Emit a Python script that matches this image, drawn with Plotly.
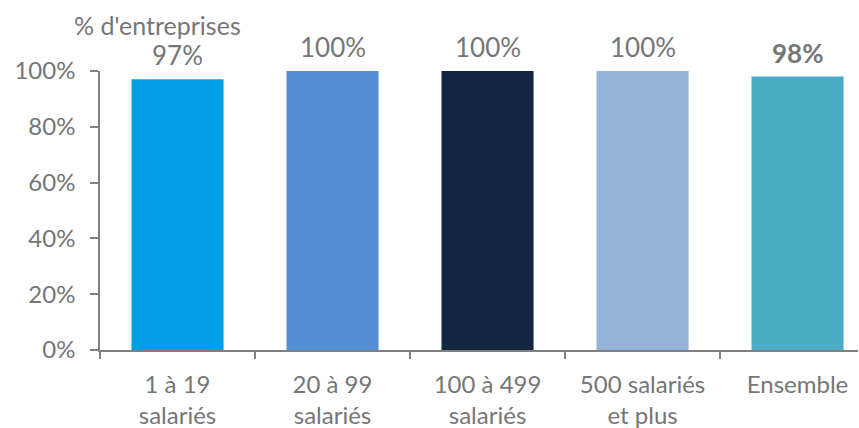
import plotly.graph_objects as go

categories = ["1 à 19<br>salariés", "20 à 99<br>salariés", "100 à 499<br>salariés", "500 salariés<br>et plus", "Ensemble"]
values = [0.97, 1.00, 1.00, 1.00, 0.98]
value_labels = ["97%", "100%", "100%", "100%", "<b>98%</b>"]
colors = ["#009FE3", "#558ED5", "#13263F", "#95B3D7", "#4BACC6"]

grey = "#767676"
font = "Lato, Carlito, Calibri, sans-serif"
FS = 24

fig = go.Figure()
fig.add_trace(go.Bar(
    x=categories, y=values, marker=dict(color=colors, line=dict(width=0)),
    cliponaxis=False, hoverinfo="skip",
))

for c, v, t in zip(categories, values, value_labels):
    fig.add_annotation(x=c, y=v, text=t, showarrow=False, yanchor="middle", yshift=24,
                       font=dict(size=26, color=grey, family=font))

fig.update_layout(
    width=859, height=428,
    margin=dict(l=100, r=1, t=71, b=78, autoexpand=False),
    paper_bgcolor="white", plot_bgcolor="white",
    showlegend=False, bargap=0.406,
)
fig.add_annotation(text="% d'entreprises", xref="paper", yref="paper",
                   x=-0.0369, y=1.165, xanchor="left", yanchor="middle", showarrow=False,
                   font=dict(size=25, color=grey, family=font))

fig.update_xaxes(
    type="category", range=[-0.5, 4.39], showline=True, linecolor="#808080", linewidth=1.5,
    ticks="outside", tickson="boundaries", ticklen=7, tickcolor="#808080", tickwidth=1.5,
    tickfont=dict(size=FS, color=grey, family=font), showgrid=False, automargin=False,
    ticklabelstandoff=12,
)
fig.update_yaxes(
    range=[0, 1], tickvals=[0, 0.2, 0.4, 0.6, 0.8, 1.0], tickformat=".0%",
    showline=True, linecolor="#808080", linewidth=1.5, ticks="outside", ticklen=8,
    tickcolor="#808080", tickwidth=1.5, showgrid=False, zeroline=False,
    tickfont=dict(size=FS, color=grey, family=font), ticklabelstandoff=10, automargin=False,
)

fig.write_html("out.html", config={"displayModeBar": False},
               post_script="document.body.style.margin='0';")
